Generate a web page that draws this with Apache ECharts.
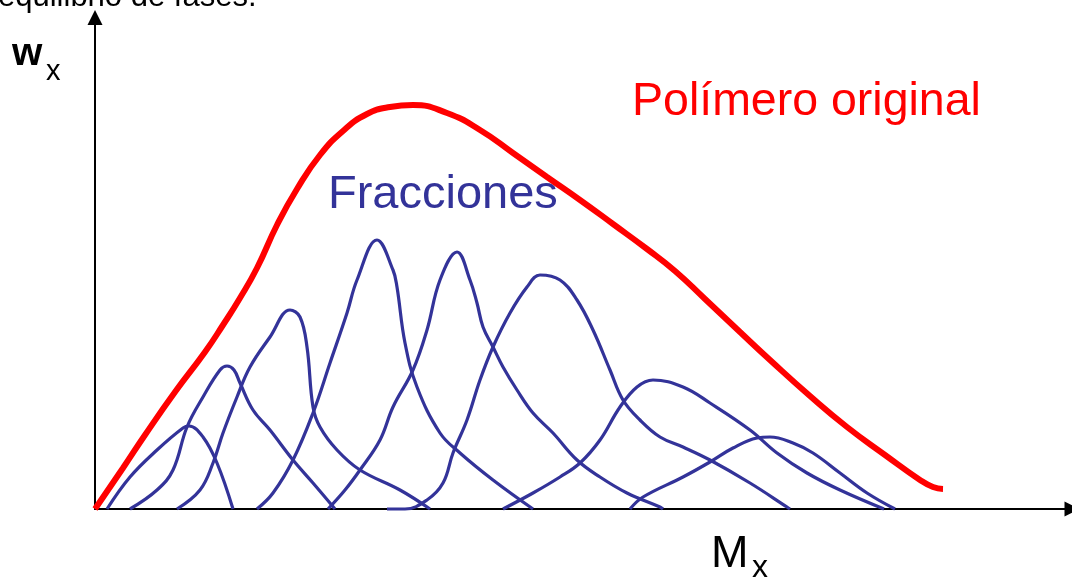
<!DOCTYPE html>
<html>
<head>
<meta charset="utf-8">
<script src="https://cdn.jsdelivr.net/npm/echarts@6/dist/echarts.min.js"></script>
<style>
html,body{margin:0;padding:0;background:#fff;}
#chart{width:1072px;height:580px;}
</style>
</head>
<body>
<div id="chart"></div>
<script>
// Values (x: molecular-weight axis units, y: weight-fraction units)
const original = [[0,0],[28,41],[50,74],[80,117],[110,157],[128,184],[145,211],[162,241],[182,284],[202,320],[225,354],[248,378],[272,395],[295,402],[318,404],[352,396],[385,379],[418,356],[452,332],[485,309],[518,285],[552,260],[580,238],[610,210],[645,177],[675,149],[715,113],[752,82],[790,54],[825,29],[838,22],[848,20]];
const fraccion1 = [[12,0],[35,32],[62,59],[88,81],[94,83],[108,72],[122,46],[138,0]];
const fraccion2 = [[35,0],[62,19],[78,39],[92,82],[108,112],[125,139],[132,143],[139,139],[145,126],[158,99],[175,79],[198,49],[218,26],[240,0]];
const fraccion3 = [[82,0],[105,19],[118,46],[128,76],[142,112],[155,142],[175,172],[195,199],[205,192],[212,162],[218,102],[225,82],[242,59],[265,39],[305,19],[335,0]];
const fraccion4 = [[162,0],[178,16],[198,49],[218,96],[235,146],[252,196],[262,229],[282,269],[298,239],[302,222],[310,166],[322,122],[345,76],[365,56],[398,29],[438,0]];
const fraccion5 = [[233,0],[250,19],[265,39],[285,69],[298,102],[318,139],[332,179],[345,229],[362,257],[375,229],[382,206],[388,182],[398,162],[408,142],[422,119],[438,96],[458,76],[482,49],[505,32],[532,16],[565,2],[568,0]];
const fraccion6 = [[292,0],[310,0],[332,9],[348,26],[358,56],[372,89],[385,129],[398,162],[415,196],[432,222],[445,234],[465,229],[482,209],[498,179],[515,139],[528,109],[545,89],[565,72],[588,62],[615,49],[655,26],[692,2],[695,0]];
const fraccion7 = [[408,0],[438,16],[465,32],[485,46],[505,69],[525,102],[542,122],[558,129],[588,122],[615,106],[655,79],[682,56],[712,36],[745,19],[789,0]];
const fraccion8 = [[535,0],[548,12],[588,32],[615,47],[638,61],[662,71],[675,72],[698,66],[718,56],[745,36],[772,16],[800,0]];
const fracciones = [fraccion1,fraccion2,fraccion3,fraccion4,fraccion5,fraccion6,fraccion7,fraccion8];

const FONT = '"Liberation Sans", Arial, Helvetica, sans-serif';
const chart = echarts.init(document.getElementById('chart'), null, {renderer:'canvas'});

const series = fracciones.map(d => ({
  type:'line', data:d, smooth:0.4, symbol:'none', clip:false,
  lineStyle:{color:'#333399', width:3.2}, z:2
}));
series.push({
  type:'line', data:original, smooth:0.5, symbol:'none', clip:false,
  lineStyle:{color:'#ff0000', width:6, cap:'butt'}, z:3
});

chart.setOption({
  animation:false,
  backgroundColor:'#ffffff',
  grid:{left:95, right:0, top:17.5, bottom:71},
  xAxis:{type:'value', min:0, max:977,
    axisLine:{show:true, onZero:false, symbol:['none','triangle'], symbolSize:[15,15], lineStyle:{color:'#000', width:2}},
    axisTick:{show:false}, axisLabel:{show:false}, splitLine:{show:false}},
  yAxis:{type:'value', min:0, max:491.5,
    axisLine:{show:true, onZero:false, symbol:['none','triangle'], symbolSize:[15,15], lineStyle:{color:'#000', width:2}},
    axisTick:{show:false}, axisLabel:{show:false}, splitLine:{show:false}},
  series:series,
  graphic:[
    {type:'text', x:-2, y:-3, style:{text:'equilibrio de fases.', font:'31px '+FONT, fill:'#000', verticalAlign:'middle'}},
    {type:'text', x:12, y:54, style:{text:'w', font:'bold 39px '+FONT, fill:'#000', verticalAlign:'middle'}},
    {type:'text', x:46, y:72, style:{text:'x', font:'29px '+FONT, fill:'#000', verticalAlign:'middle'}},
    {type:'text', x:711, y:555, style:{text:'M', font:'45px '+FONT, fill:'#000', verticalAlign:'middle'}},
    {type:'text', x:752, y:568, style:{text:'x', font:'32px '+FONT, fill:'#000', verticalAlign:'middle'}},
    {type:'text', x:632, y:102, style:{text:'Polímero original', font:'46.5px '+FONT, fill:'#ff0000', verticalAlign:'middle'}},
    {type:'text', x:328, y:195, style:{text:'Fracciones', font:'47px '+FONT, fill:'#333399', verticalAlign:'middle'}}
  ]
});
</script>
</body>
</html>
